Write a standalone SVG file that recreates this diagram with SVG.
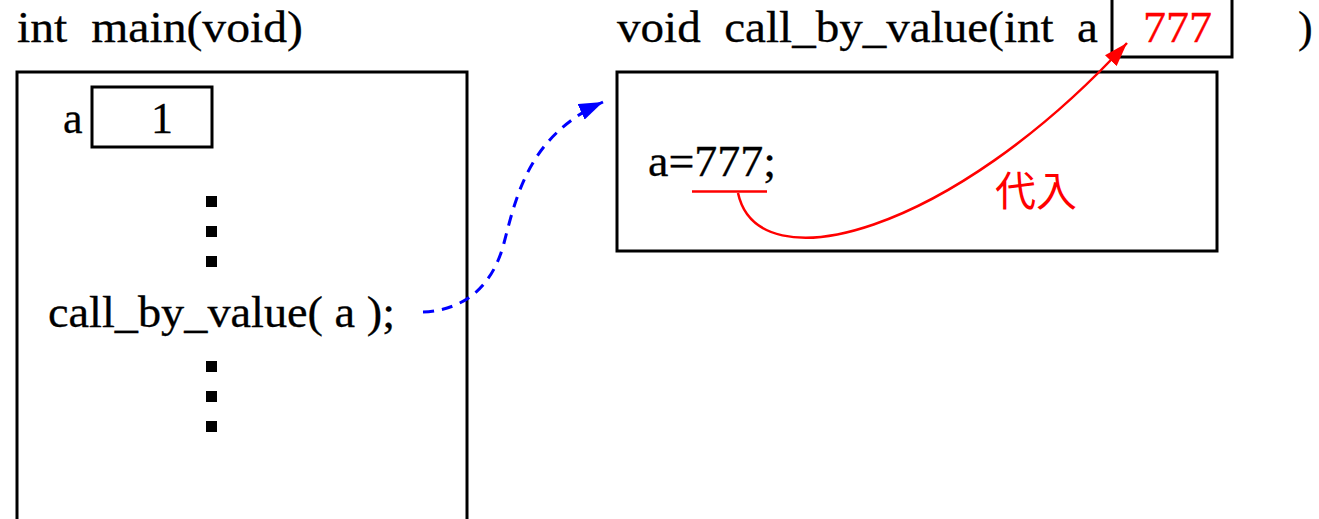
<svg xmlns="http://www.w3.org/2000/svg" width="1319" height="519" viewBox="0 0 1319 519">
<style>
.t{font-family:"Liberation Serif","Times New Roman",serif;font-size:44px;fill:#000;white-space:pre;stroke:#000;stroke-width:0.3}
.r{fill:#ff0000;stroke:#ff0000}
.box{fill:none;stroke:#000;stroke-width:3}
.dot{fill:#000}
.jp{font-family:"Noto Sans CJK JP","Noto Sans",sans-serif;font-size:41px;fill:#ff0000}
</style>
<defs>
<marker id="ab" markerWidth="24" markerHeight="17" refX="24" refY="8.5" orient="auto" markerUnits="userSpaceOnUse">
<path d="M0,0 L24,8.5 L0,17 Z" fill="#0000ff"/>
</marker>
<marker id="ar" markerWidth="24" markerHeight="16" refX="24" refY="8" orient="auto" markerUnits="userSpaceOnUse">
<path d="M0,0 L24,8 L0,16 Z" fill="#ff0000"/>
</marker>
</defs>
<rect width="1319" height="519" fill="#fff"/>
<g id="main">
<text class="t" x="17" y="42" textLength="286" lengthAdjust="spacingAndGlyphs">int  main(void)</text>
<rect class="box" x="17" y="72" width="450" height="470"/>
<g id="var-a">
<text class="t" x="63" y="133">a</text>
<rect class="box" x="92" y="87" width="120" height="60" stroke-width="2.5"/>
<text class="t" x="151" y="133">1</text>
</g>
<rect class="dot" x="206" y="196" width="11" height="11"/>
<rect class="dot" x="206" y="226" width="11" height="11"/>
<rect class="dot" x="206" y="256" width="11" height="11"/>
<text class="t" x="48" y="327" textLength="347" lengthAdjust="spacingAndGlyphs">call_by_value( a );</text>
<rect class="dot" x="206" y="361" width="11" height="11"/>
<rect class="dot" x="206" y="391" width="11" height="11"/>
<rect class="dot" x="206" y="421" width="11" height="11"/>
</g>
<g id="callee">
<text class="t" x="617" y="42" textLength="481" lengthAdjust="spacingAndGlyphs">void  call_by_value(int  a</text>
<rect class="box" x="1112" y="-5" width="120" height="62" stroke-width="2.5"/>
<text class="t r" x="1143" y="42" textLength="69" lengthAdjust="spacingAndGlyphs">777</text>
<text class="t" x="1298" y="42">)</text>
<rect class="box" x="617" y="72" width="600" height="179"/>
<text class="t" x="648" y="176" textLength="128" lengthAdjust="spacingAndGlyphs">a=777;</text>
<line x1="692" y1="191.5" x2="767" y2="191.5" stroke="#ff0000" stroke-width="2.5"/>
<text class="jp" x="995" y="206">代入</text>
</g>
<g id="connectors" fill="none">
<path d="M423,312 C466,310 493,285 504,243 C517,193 530,135 603,102" stroke="#0000ff" stroke-width="3" stroke-dasharray="11,8" marker-end="url(#ab)"/>
<path d="M738,193 C758,285 950,235 1127,43" stroke="#ff0000" stroke-width="2.5" marker-end="url(#ar)"/>
</g>
</svg>
